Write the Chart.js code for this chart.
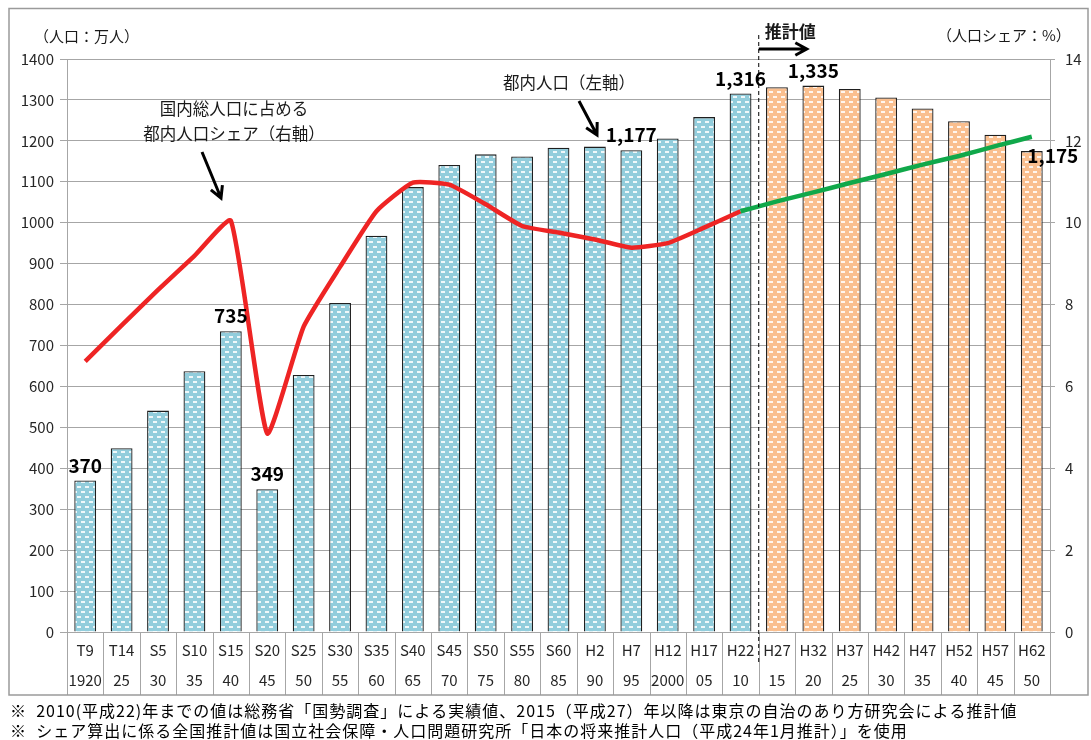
<!DOCTYPE html>
<html>
<head>
<meta charset="utf-8">
<script src="https://cdn.jsdelivr.net/npm/chart.js@4/dist/chart.umd.min.js"></script>
<style>
  body { margin: 0; background: #fff; }
</style>
</head>
<body>
<canvas id="grafico" width="1091" height="740"></canvas>
<script>
const eras = ["T9","T14","S5","S10","S15","S20","S25","S30","S35","S40","S45","S50","S55","S60","H2","H7","H12","H17","H22","H27","H32","H37","H42","H47","H52","H57","H62"]
const years = ["1920","25","30","35","40","45","50","55","60","65","70","75","80","85","90","95","2000","05","10","15","20","25","30","35","40","45","50"]

// 都内人口（万人）
const popActual = [370,449,541,637,735,349,628,804,968,1087,1141,1167,1162,1183,1186,1177,1206,1258,1316]
const popProjected = [1331,1335,1327,1306,1279,1248,1215,1175]

// 国内総人口に占める都内人口シェア（%）
const shareActual = [6.61,7.49,8.36,9.19,10.05,4.85,7.46,8.92,10.28,10.98,10.93,10.45,9.92,9.76,9.59,9.39,9.50,9.88,10.28]
const shareProjected = [10.52,10.74,10.97,11.19,11.42,11.63,11.87,12.10]

// 数値ラベルを付ける棒
const labelIdx = [0,4,5,15,18,20,26]

const FONT = '"Noto Sans CJK JP", "Noto Sans", sans-serif'
const TXT = "#262626"

function makePattern(base) {
    const c = document.createElement("canvas")
    c.width = 8
    c.height = 10
    const g = c.getContext("2d")
    g.fillStyle = base
    g.fillRect(0, 0, 8, 10)
    g.fillStyle = "rgba(255,255,255,0.85)"
    g.fillRect(1, 1, 4, 2)
    g.fillRect(5, 6, 3, 2)
    g.fillRect(0, 6, 1, 2)
    return g.createPattern(c, "repeat")
}

const blue = makePattern("#92cddc")
const orange = makePattern("#fabf8f")

const labels = eras.map((e, i) => [e, years[i]])
const popAll = popActual.concat(popProjected)
const barColors = popAll.map((v, i) => i < popActual.length ? blue : orange)
const redData = shareActual.concat(popProjected.map(() => null))
const greenData = popActual.slice(1).map(() => null)
    .concat([shareActual[shareActual.length - 1]])
    .concat(shareProjected)

function arrow(ctx, x1, y1, x2, y2) {
    const a = Math.atan2(y2 - y1, x2 - x1)
    const h = 13
    ctx.beginPath()
    ctx.moveTo(x1, y1)
    ctx.lineTo(x2, y2)
    ctx.moveTo(x2 - h * Math.cos(a - 0.5), y2 - h * Math.sin(a - 0.5))
    ctx.lineTo(x2, y2)
    ctx.lineTo(x2 - h * Math.cos(a + 0.5), y2 - h * Math.sin(a + 0.5))
    ctx.stroke()
}

const extras = {
    id: "extras",
    beforeDraw(chart) {
        const ctx = chart.ctx
        ctx.save()
        ctx.fillStyle = "#fff"
        ctx.fillRect(0, 0, chart.width, chart.height)
        ctx.restore()
    },
    afterDraw(chart) {
        const ctx = chart.ctx
        const area = chart.chartArea
        const xs = chart.scales.x
        const w = (area.right - area.left) / eras.length
        ctx.save()

        // 表の区切り線
        ctx.strokeStyle = "#a6a6a6"
        ctx.lineWidth = 1
        for (let i = 0; i <= eras.length; i++) {
            const x = Math.round(area.left + i * w) + 0.5
            ctx.beginPath()
            ctx.moveTo(x, area.bottom)
            ctx.lineTo(x, 695)
            ctx.stroke()
        }

        // 外枠
        ctx.strokeStyle = "#9a9a9a"
        ctx.lineWidth = 1.5
        ctx.strokeRect(9, 8.5, 1079, 686.5)

        // 推計値の境界
        const xb = (xs.getPixelForValue(popActual.length - 1) + xs.getPixelForValue(popActual.length)) / 2
        ctx.strokeStyle = "#000"
        ctx.lineWidth = 1
        ctx.setLineDash([4, 3])
        ctx.beginPath()
        ctx.moveTo(xb, 35)
        ctx.lineTo(xb, 664)
        ctx.stroke()
        ctx.setLineDash([])

        // 矢印
        ctx.lineWidth = 3
        ctx.strokeStyle = "#000"
        arrow(ctx, xb, 49, xb + 48, 49)
        arrow(ctx, 202, 152, 221, 198)
        arrow(ctx, 579, 101, 597, 135)

        // 数値ラベル
        const meta = chart.getDatasetMeta(0)
        ctx.fillStyle = "#000"
        ctx.font = "bold 19px " + FONT
        ctx.textAlign = "center"
        ctx.textBaseline = "middle"
        labelIdx.forEach(i => {
            const bar = meta.data[i]
            let dx = 0
            let dy = -15
            if (i === eras.length - 1) {
                dx = 21
                dy = 5
            }
            ctx.fillText(popAll[i].toLocaleString("en-US"), bar.x + dx, bar.y + dy)
        })

        // 注記
        ctx.fillStyle = "#1a1a1a"
        ctx.font = "16.5px " + FONT
        ctx.fillText("国内総人口に占める", 234, 109)
        ctx.fillText("都内人口シェア（右軸）", 234, 134)
        ctx.fillText("都内人口（左軸）", 569, 83)
        ctx.font = "bold 17px " + FONT
        ctx.textAlign = "left"
        ctx.fillText("推計値", xb + 6, 32)

        ctx.font = "15px " + FONT
        ctx.fillText("（人口：万人）", 34, 36)
        ctx.fillText("（人口シェア：%）", 937, 35)

        ctx.font = "16px " + FONT
        ctx.letterSpacing = "1px"
        ctx.fillStyle = "#000"
        ctx.fillText("※  2010(平成22)年までの値は総務省「国勢調査」による実績値、2015（平成27）年以降は東京の自治のあり方研究会による推計値", 10, 711)
        ctx.fillText("※  シェア算出に係る全国推計値は国立社会保障・人口問題研究所「日本の将来推計人口（平成24年1月推計）」を使用", 10, 731)
        ctx.letterSpacing = "0px"

        ctx.restore()
    }
}

new Chart(document.getElementById("grafico"), {
    type: "bar",
    data: {
        labels: labels,
        datasets: [
            {
                type: "bar",
                data: popAll,
                backgroundColor: barColors,
                borderColor: "#1f1f1f",
                borderWidth: 1.3,
                barPercentage: 0.6,
                categoryPercentage: 1,
                yAxisID: "y",
                order: 2
            },
            {
                type: "line",
                data: redData,
                borderColor: "#ee2424",
                borderWidth: 4.5,
                pointRadius: 0,
                tension: 0.15,
                yAxisID: "y2",
                order: 1
            },
            {
                type: "line",
                data: greenData,
                borderColor: "#10a84a",
                borderWidth: 4.5,
                pointRadius: 0,
                tension: 0.15,
                yAxisID: "y2",
                order: 0
            }
        ]
    },
    options: {
        responsive: false,
        animation: false,
        layout: {
            padding: { top: 59, bottom: 45, left: 0, right: 0 }
        },
        plugins: {
            legend: { display: false },
            tooltip: { enabled: false }
        },
        scales: {
            x: {
                grid: { display: false },
                border: { display: false },
                ticks: {
                    color: TXT,
                    font: { family: FONT, size: 15, lineHeight: 2 },
                    padding: -5,
                    maxRotation: 0,
                    autoSkip: false
                },
                afterFit(scale) { scale.height = 63 }
            },
            y: {
                position: "left",
                min: 0,
                max: 1400,
                ticks: {
                    stepSize: 100,
                    color: TXT,
                    font: { family: FONT, size: 15 },
                    padding: 6,
                    callback: v => String(v)
                },
                grid: { color: "#a6a6a6", tickLength: 7 },
                border: { color: "#a6a6a6" },
                afterFit(scale) { scale.width = 67 }
            },
            y2: {
                position: "right",
                min: 0,
                max: 14,
                ticks: {
                    stepSize: 2,
                    color: TXT,
                    font: { family: FONT, size: 15 },
                    padding: 10
                },
                grid: { drawOnChartArea: false, color: "#a6a6a6", tickLength: 5 },
                border: { color: "#a6a6a6" },
                afterFit(scale) { scale.width = 41 }
            }
        }
    },
    plugins: [extras]
})
</script>
</body>
</html>
